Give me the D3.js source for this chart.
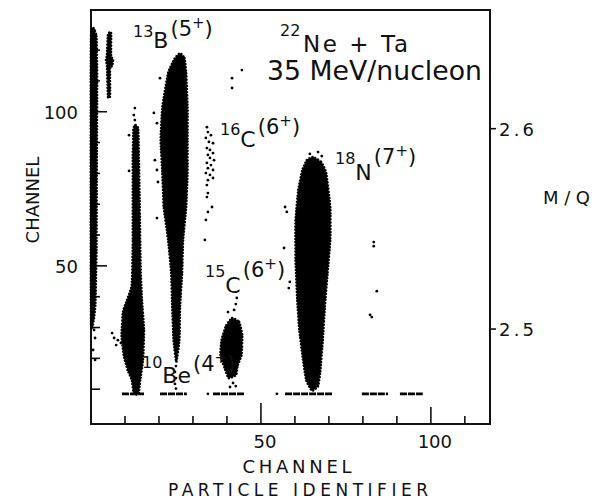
<!DOCTYPE html>
<html>
<head>
<meta charset="utf-8">
<script src="https://cdn.jsdelivr.net/npm/d3@7"></script>
<style>
  body { margin: 0; background: #fff; }
  text { font-family: "DejaVu Sans", sans-serif; fill: #111; }
</style>
</head>
<body>
<div id="chart"></div>
<script>
// ---- data (channel units) ----
var xTicks = [10, 20, 30, 40, 50, 60, 70, 80, 90, 100, 110];
var xLabels = [50, 100];
var yTicks = [10, 20, 30, 40, 50, 60, 70, 80, 90, 100, 110, 120];
var yLabels = [50, 100];
var mqValues = [2.5, 2.6];
var mqChannels = [29.5, 94.5];   // channel heights where the M/Q ticks sit

// dense groups, outlined [PI channel, channel]
var leftBand = [[0, 124.2], [1.6, 124.5], [1.8, 110], [1.7, 80], [1.6, 55.1], [1.3, 38],
                [0.8, 32.4], [0, 32.4]];
var stripe = [[5.0, 125.2], [5.9, 125.5], [5.9, 118.4], [6.5, 116.8], [6.2, 114.8], [5.6, 114.2],
              [5.6, 105.1], [5.0, 104.8], [4.7, 114.8], [4.4, 116.8], [4.7, 118.4]];
var be10 = [[12.9, 95.7], [13.9, 94.1], [14.3, 71.4], [14.6, 48.7], [15.0, 38.9], [15.6, 29.2],
            [15.3, 19.5], [14.5, 13.0], [14.0, 8.5], [12.6, 8.5], [12.0, 13.0], [10.8, 16.2],
            [9.6, 21.1], [9.0, 27.6], [9.4, 35.0], [10.6, 38.9], [12.0, 43.8], [12.3, 58.4],
            [12.3, 84.3], [12.5, 94.1]];
var b13 = [[26.2, 119.0], [27.5, 117.4], [28.0, 112.6], [28.4, 101.5], [28.4, 90.8], [28.4, 80.1],
           [28.0, 69.1], [27.1, 58.4], [26.8, 47.7], [26.2, 36.7], [26.0, 25.9], [25.1, 18.8],
           [24.3, 25.9], [23.9, 36.7], [23.6, 47.7], [22.7, 58.4], [21.4, 69.1], [21.0, 80.1],
           [20.5, 90.8], [21.0, 101.5], [22.7, 112.6], [24.6, 117.2]];
var c15 = [[41.5, 33.1], [43.6, 31.8], [44.5, 27.6], [44.3, 21.1], [43.2, 17.8], [42.7, 14.6],
           [40.5, 13.6], [39.3, 16.9], [38.1, 21.1], [38.4, 25.9], [39.7, 30.5]];
var n18 = [[65.3, 85.3], [67.7, 83.7], [69.2, 80.1], [70.4, 69.1], [70.4, 58.4], [69.6, 47.7],
           [68.8, 36.7], [68.2, 25.9], [67.4, 15.2], [66.8, 11.0], [65.0, 9.5], [63.3, 13.0],
           [62.2, 21.1], [61.3, 29.2], [60.7, 38.9], [60.2, 51.9], [60.2, 64.9], [61.0, 74.6],
           [62.2, 81.1], [63.5, 84.3]];

// single events
var c16Points = [[34.1, 95.0], [34.4, 93.4], [35.3, 92.4], [33.8, 91.5], [34.7, 90.2], [35.9, 89.8],
                 [34.1, 88.2], [35.0, 87.6], [35.9, 86.6], [34.4, 86.0], [35.0, 85.0], [36.2, 84.3],
                 [34.1, 83.4], [35.3, 82.7], [34.4, 81.7], [35.9, 81.1], [33.8, 80.1], [35.0, 79.5],
                 [35.9, 78.5], [34.4, 77.8], [34.1, 76.2], [34.4, 73.6], [34.1, 72.3], [35.6, 69.1],
                 [34.4, 67.5], [33.8, 64.9], [33.5, 58.4]];
var strayPoints = [
  [0.9, 126.5], [0.9, 29.2], [1.2, 26.6], [0.6, 22.7], [1.2, 19.5],
  [12.9, 101.2], [12.6, 98.9], [12.9, 97.3], [11.2, 92.4], [11.2, 80.8],
  [6.2, 28.2], [6.8, 26.6], [7.9, 25.9], [8.8, 25.0], [7.4, 24.3],
  [20.3, 110.9], [18.5, 99.6], [19.4, 96.3], [18.8, 84.3], [19.4, 81.1], [19.7, 77.2],
  [19.4, 65.5], [21.2, 86.6],
  [25.0, 17.5], [24.7, 15.6], [25.0, 13.6], [24.7, 11.7], [25.0, 10.2],
  [41.5, 110.9], [44.4, 113.5], [41.5, 107.7],
  [42.9, 39.6], [42.6, 37.6], [42.1, 35.7], [40.3, 35.0], [41.8, 12.0], [42.6, 11.0], [40.9, 10.7],
  [57.1, 69.1], [57.6, 67.5], [56.8, 55.8], [58.5, 44.8], [58.2, 42.8],
  [64.4, 86.3], [66.8, 86.9], [67.9, 85.6],
  [83.2, 57.7], [83.2, 56.4], [84.1, 41.8], [82.1, 34.1], [82.6, 33.4],
  [34.4, 8.5], [54.7, 8.5]
];
// row of events along the bottom (channel ~8.5): [from, to] in PI channel
var bottomRowY = 8.5;
var bottomRow = [[9.1, 15.6], [20.3, 28.2], [35.9, 45.0], [57.1, 71.2], [79.7, 87.4], [90.9, 97.6]];

// ---- chart ----
var W = 598, H = 503;
var svg = d3.select("#chart").append("svg").attr("width", W).attr("height", H);

var x = d3.scaleLinear().domain([0, 117.4]).range([91, 490]);
var y = d3.scaleLinear().domain([-1.3, 133]).range([424, 10]);
var mq = d3.scaleLinear().domain(mqValues).range(mqChannels.map(y));

// frame
svg.append("rect")
  .attr("x", x(0)).attr("y", y(133))
  .attr("width", x(117.4) - x(0)).attr("height", y(-1.3) - y(133))
  .attr("fill", "none").attr("stroke", "#111").attr("stroke-width", 2);

// bottom ticks (inward)
svg.append("g").selectAll("line").data(xTicks).enter().append("line")
  .attr("x1", d => x(d)).attr("x2", d => x(d))
  .attr("y1", y(-1.3)).attr("y2", d => y(-1.3) - (d == 50 ? 21 : d == 100 ? 17 : 8))
  .attr("stroke", "#111").attr("stroke-width", 1.6);
svg.append("g").selectAll("text").data(xLabels).enter().append("text")
  .attr("x", d => x(d) + 4).attr("y", 448)
  .attr("text-anchor", "middle").style("font-size", "18px")
  .text(d => d);

// left ticks (inward)
svg.append("g").selectAll("line").data(yTicks).enter().append("line")
  .attr("x1", x(0)).attr("x2", d => x(0) + (yLabels.indexOf(d) >= 0 ? 16 : 9))
  .attr("y1", d => y(d)).attr("y2", d => y(d))
  .attr("stroke", "#111").attr("stroke-width", 1.6);
svg.append("g").selectAll("text").data(yLabels).enter().append("text")
  .attr("x", 78).attr("y", d => y(d) + 7)
  .attr("text-anchor", "end").style("font-size", "18px")
  .text(d => d);

// right M/Q ticks (outward)
svg.append("g").selectAll("line").data(mqValues).enter().append("line")
  .attr("x1", x(117.4)).attr("x2", x(117.4) + 6)
  .attr("y1", d => mq(d)).attr("y2", d => mq(d))
  .attr("stroke", "#111").attr("stroke-width", 1.6);
svg.append("g").selectAll("text").data(mqValues).enter().append("text")
  .attr("x", x(117.4) + 9).attr("y", d => mq(d) + 7)
  .attr("textLength", 35).attr("lengthAdjust", "spacing")
  .style("font-size", "18px")
  .text(d => d.toFixed(1));

// axis titles
svg.append("text").attr("x", 297).attr("y", 473)
  .attr("text-anchor", "middle").style("font-size", "18px")
  .attr("textLength", 109).attr("lengthAdjust", "spacing").text("CHANNEL");
svg.append("text").attr("x", 298).attr("y", 496)
  .attr("text-anchor", "middle").style("font-size", "17px")
  .attr("textLength", 260).attr("lengthAdjust", "spacing").text("PARTICLE IDENTIFIER");
svg.append("text").attr("transform", "translate(39,200) rotate(-90)")
  .attr("text-anchor", "middle").style("font-size", "18px")
  .text("CHANNEL");
svg.append("text").attr("x", 543).attr("y", 204)
  .style("font-size", "18px")
  .attr("textLength", 47).attr("lengthAdjust", "spacing").text("M/Q");

// dense groups
var blob = d3.line().x(d => x(d[0])).y(d => y(d[1])).curve(d3.curveCardinalClosed.tension(0.6));
[leftBand, stripe, be10, b13, c15, n18].forEach(function (c) {
  svg.append("path").attr("d", blob(c))
    .attr("fill", "#000").attr("stroke", "#000")
    .attr("stroke-width", 2.6).attr("stroke-linecap", "round")
    .attr("stroke-dasharray", "0.1 3");
});

// single events
svg.append("g").selectAll("circle").data(c16Points.concat(strayPoints)).enter().append("circle")
  .attr("cx", d => x(d[0])).attr("cy", d => y(d[1])).attr("r", 1.4).attr("fill", "#000");

svg.append("g").selectAll("line").data(bottomRow).enter().append("line")
  .attr("x1", d => x(d[0])).attr("x2", d => x(d[1]))
  .attr("y1", y(bottomRowY)).attr("y2", y(bottomRowY))
  .attr("stroke", "#000").attr("stroke-width", 2.8)
  .attr("stroke-dasharray", "7 1");

// isotope labels: mass number, element, charge state
var isotopes = [
  { mass: "13", el: "B", q: "5" },
  { mass: "16", el: "C", q: "6" },
  { mass: "15", el: "C", q: "6" },
  { mass: "18", el: "N", q: "7" },
  { mass: "10", el: "Be", q: "4" }
];
// layout: left of mass number, its baseline, then element and charge baselines
var isoPos = [
  [133, 37, 48, 36],
  [220, 135, 147, 134],
  [205, 277, 293, 277],
  [335, 164, 180, 164],
  [142, 368, 383, 371]
];
isotopes.forEach(function (d, i) {
  var p = isoPos[i];
  var t = svg.append("text").attr("x", p[0]).attr("y", p[1]);
  t.append("tspan").style("font-size", "16px").text(d.mass);
  t.append("tspan").style("font-size", "22px").attr("dy", p[2] - p[1]).text(d.el);
  t.append("tspan").style("font-size", "21px").attr("dy", p[3] - p[2]).attr("dx", 2).text("(" + d.q);
  t.append("tspan").style("font-size", "15px").attr("dy", -8).text("+");
  t.append("tspan").style("font-size", "21px").attr("dy", 8).text(")");
});

// reaction
var r = svg.append("text").attr("x", 280).attr("y", 36);
r.append("tspan").style("font-size", "16px").text("22");
svg.append("text").attr("x", 303).attr("y", 52).style("font-size", "23px")
  .attr("textLength", 105).attr("lengthAdjust", "spacing").text("Ne + Ta");
svg.append("text").attr("x", 267).attr("y", 80).style("font-size", "27px")
  .attr("textLength", 215).attr("lengthAdjust", "spacingAndGlyphs").text("35 MeV/nucleon");
</script>
</body>
</html>
